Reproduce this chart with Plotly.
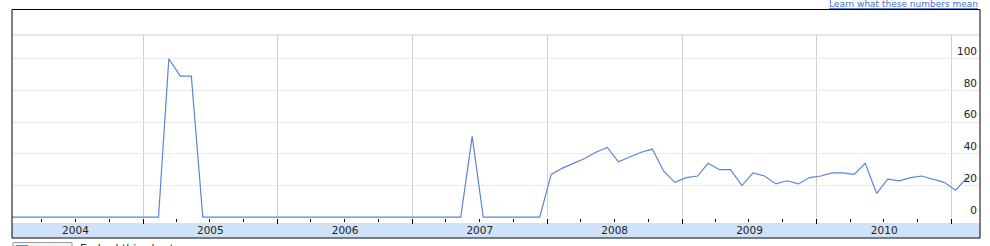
import pandas as pd
import plotly.graph_objects as go

# ---- data (monthly values, Jan 2004 .. Feb 2011) ----
start_month = "2004-01-01"
values = (
    [0] * 14 +                                   # Jan 2004 - Feb 2005
    [100, 89, 89] +                              # Mar - May 2005
    [0] * 24 +                                   # Jun 2005 - May 2007
    [51] +                                       # Jun 2007
    [0] * 6 +                                    # Jul - Dec 2007
    [27, 31, 34, 37, 41, 44, 35, 38, 41, 43, 29, 22] +   # 2008
    [25, 26, 34, 30, 30, 20, 28, 26, 21, 23, 21, 25] +   # 2009
    [26, 28, 28, 27, 34, 15, 24, 23, 25, 26, 24, 22] +   # 2010
    [17, 25]                                      # 2011
)
dates = pd.date_range(start_month, periods=len(values), freq="MS") + pd.Timedelta(days=11)
y_ticks = [0, 20, 40, 60, 80, 100]
link_text = "Learn what these numbers mean"
footer_text = "Embed this chart"

W, H = 990, 246
ML, MR, MT, MB = 12, 10, 35, 28
PW, PH = W - ML - MR, H - MT - MB


def px(xp):
    return (xp - ML) / PW


def py(yp):
    return (H - MB - yp) / PH


FONT = "DejaVu Sans"
LINE = "#5a84d9"

fig = go.Figure()
fig.add_trace(go.Scatter(
    x=dates, y=values, mode="lines",
    line=dict(color=LINE, width=1.2),
    hoverinfo="x+y", showlegend=False,
))

fig.update_layout(
    width=W, height=H,
    margin=dict(l=ML, r=MR, t=MT, b=MB, autoexpand=False),
    paper_bgcolor="white", plot_bgcolor="white",
    font=dict(family=FONT, size=10.5, color="#222"),
    xaxis=dict(
        type="date", automargin=False,
        range=["2004-01-12", "2011-03-19"],
        tick0="2004-01-01", dtick="M12",
        tickformat="%Y", ticklabelmode="period",
        ticks="outside", ticklen=5, tickcolor="#000", tickwidth=1,
        showgrid=True, gridcolor="#cfcfcf", gridwidth=1,
        showline=False, zeroline=False,
        tickfont=dict(family=FONT, size=10.5, color="#222"),
        ticklabelstandoff=-3,
        minor=dict(dtick="M3", tick0="2004-01-01", ticks="outside",
                   ticklen=3, tickcolor="#000", showgrid=False),
    ),
    yaxis=dict(
        automargin=False,
        range=[-0.5, 115],
        tickvals=y_ticks,
        side="right",
        ticklabelposition="inside top",
        ticks="", showgrid=True, gridcolor="#ebebeb", gridwidth=1,
        zeroline=False, showline=False,
        tickfont=dict(family=FONT, size=10.5, color="#222"),
    ),
    shapes=[
        # x-axis band
        dict(type="rect", xref="paper", yref="paper",
             x0=0, x1=1, y0=py(237.5), y1=py(223),
             fillcolor="#d0e2f7", line=dict(width=0), layer="below"),
        # top line of the plot area
        dict(type="line", xref="paper", yref="paper",
             x0=0, x1=1, y0=1, y1=1, line=dict(color="#cfcfcf", width=1)),
        # outer frame
        dict(type="rect", xref="paper", yref="paper",
             x0=0, x1=1, y0=py(238), y1=py(9.5),
             line=dict(color="#000", width=1), fillcolor="rgba(0,0,0,0)"),
        # bottom pill button
        dict(type="rect", xref="paper", yref="paper",
             x0=px(13), x1=px(72), y0=py(252), y1=py(242.5),
             line=dict(color="#9a9a9a", width=1), fillcolor="#f4f4f4"),
        dict(type="rect", xref="paper", yref="paper",
             x0=px(16), x1=px(28), y0=py(252), y1=py(245),
             line=dict(width=0), fillcolor="#5b8ad6"),
    ],
    annotations=[
        dict(text="<span style='text-decoration:underline'>" + link_text + "</span>",
             xref="paper", yref="paper", x=px(980), y=py(11),
             xanchor="right", yanchor="bottom", showarrow=False,
             font=dict(family=FONT, size=9, color="#4a6fd0")),
        dict(text=footer_text,
             xref="paper", yref="paper", x=px(78), y=py(240),
             xanchor="left", yanchor="top", showarrow=False,
             font=dict(family=FONT, size=11, color="#333")),
    ],
)

fig.write_html("out.html")
